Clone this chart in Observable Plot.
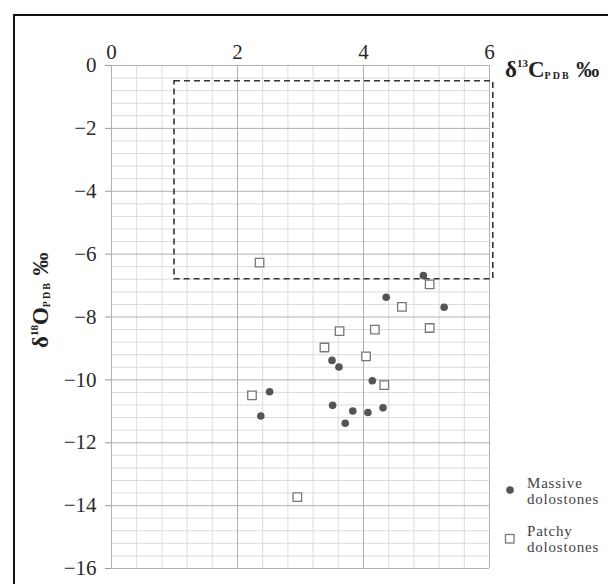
<!DOCTYPE html>
<html>
<head>
<meta charset="utf-8">
<script src="https://cdn.jsdelivr.net/npm/d3@7"></script>
<script src="https://cdn.jsdelivr.net/npm/@observablehq/plot@0.6"></script>
<style>
  html, body { margin: 0; padding: 0; background: #fff; overflow: hidden; }
  #wrap { position: relative; width: 608px; height: 584px; overflow: hidden; }
  #frame { position: absolute; left: 13px; top: 14px; width: 700px; height: 700px;
           border-left: 2.5px solid #111; border-top: 2.5px solid #111; pointer-events: none; }
  svg, svg text { font-family: "Liberation Serif", "DejaVu Serif", serif !important; }
  g[aria-label$="tick label"], g[aria-label$="tick label"] text { font-size: 21px !important; }
</style>
</head>
<body>
<div id="wrap"><div id="frame"></div></div>
<script>
// ---- data ----
const massiveC = [4.95, 4.36, 5.28, 3.50, 3.61, 4.14, 2.51, 2.37, 3.51, 3.83, 3.71, 4.07, 4.31];
const massiveO = [-6.68, -7.37, -7.69, -9.38, -9.59, -10.03, -10.38, -11.15, -10.81, -10.99, -11.38, -11.04, -10.89];
const patchyC = [2.35, 5.05, 4.61, 3.62, 4.18, 5.05, 3.38, 4.04, 4.33, 2.23, 2.95];
const patchyO = [-6.27, -6.96, -7.68, -8.45, -8.40, -8.35, -8.97, -9.25, -10.17, -10.49, -13.73];
const boxC = [1, 6.06];
const boxO = [-0.5, -6.8];
const xTicks = [0, 2, 4, 6];
const yTicks = [0, -2, -4, -6, -8, -10, -12, -14, -16];
const legendLabels = [["Massive", "dolostones"], ["Patchy", "dolostones"]];

const massive = massiveC.map((c, i) => ({c, o: massiveO[i]}));
const patchy = patchyC.map((c, i) => ({c, o: patchyO[i]}));
const box = [{x1: boxC[0], x2: boxC[1], y1: boxO[0], y2: boxO[1]}];
const xMinor = d3.range(0, 6.0001, 0.4).filter(v => !xTicks.some(t => Math.abs(t - v) < 1e-6));
const yMinor = d3.range(0, -16.0001, -0.4).filter(v => !yTicks.some(t => Math.abs(t - v) < 1e-6));
const fmt = d => (d < 0 ? "\u2212" : "") + Math.abs(d);
const serif = "Liberation Serif";

const chart = Plot.plot({
  width: 608,
  height: 584,
  marginLeft: 111,
  marginRight: 119,
  marginTop: 65,
  marginBottom: 16,
  style: {background: "transparent", fontFamily: serif, fontSize: "21px", color: "#2a2a2a"},
  x: {domain: [0, 6]},
  y: {domain: [-16, 0]},
  marks: [
    Plot.ruleX(xMinor, {stroke: "#dcdcdc", strokeWidth: 1}),
    Plot.ruleY(yMinor, {stroke: "#dcdcdc", strokeWidth: 1}),
    Plot.ruleX(xTicks, {stroke: "#b0b0b0", strokeWidth: 1}),
    Plot.ruleY(yTicks, {stroke: "#b0b0b0", strokeWidth: 1}),
    Plot.rect(box, {x1: "x1", x2: "x2", y1: "y1", y2: "y2", fill: "none", stroke: "#333", strokeWidth: 1.6, strokeDasharray: "6,4"}),
    Plot.dot(patchy, {x: "c", y: "o", symbol: "square", r: 4.8, fill: "white", stroke: "#777", strokeWidth: 1.3}),
    Plot.dot(massive, {x: "c", y: "o", r: 3.8, fill: "#555", stroke: "none"}),
    Plot.axisX({anchor: "top", ticks: xTicks, tickFormat: fmt, tickSize: 0, tickPadding: 7, label: null, fontSize: 21, fontFamily: serif, fill: "#2a2a2a"}),
    Plot.axisY({anchor: "left", ticks: yTicks, tickFormat: fmt, tickSize: 6, tickPadding: 9, label: null, fontSize: 21, fontFamily: serif, fill: "#2a2a2a", stroke: "#999"})
  ]
});

document.getElementById("wrap").insertBefore(chart, document.getElementById("frame"));
chart.style.position = "absolute";
chart.style.left = "0px";
chart.style.top = "0px";

const svg = d3.select(chart);

// axis titles with sub/superscripts
const xt = svg.append("text").attr("x", 505).attr("y", 77).attr("text-anchor", "start")
  .attr("font-weight", "bold").attr("fill", "#222").attr("font-size", 23);
xt.append("tspan").text("δ");
xt.append("tspan").attr("font-size", 11).attr("dy", -10).text("13");
xt.append("tspan").attr("font-size", 23).attr("dy", 10).text("C");
xt.append("tspan").attr("font-size", 10).attr("dy", 2).attr("letter-spacing", 2).text("PDB");
xt.append("tspan").attr("font-size", 23).attr("dy", -2).text(" ‰");

const yt = svg.append("text").attr("transform", "translate(48,348) rotate(-90)").attr("text-anchor", "start")
  .attr("font-weight", "bold").attr("fill", "#222").attr("font-size", 23);
yt.append("tspan").text("δ");
yt.append("tspan").attr("font-size", 11).attr("dy", -10).text("18");
yt.append("tspan").attr("font-size", 23).attr("dy", 10).text("O");
yt.append("tspan").attr("font-size", 10).attr("dy", 2).attr("letter-spacing", 2).text("PDB");
yt.append("tspan").attr("font-size", 23).attr("dy", -2).text(" ‰");

// legend
const lg = svg.append("g").attr("fill", "#444").attr("font-size", 15).attr("letter-spacing", 0.8).attr("text-anchor", "start");
lg.append("circle").attr("cx", 510).attr("cy", 490).attr("r", 3.8).attr("fill", "#555");
lg.append("text").attr("x", 527).attr("y", 488).text(legendLabels[0][0]);
lg.append("text").attr("x", 527).attr("y", 504).text(legendLabels[0][1]);
lg.append("rect").attr("x", 505.5).attr("y", 534.5).attr("width", 8.5).attr("height", 8.5).attr("fill", "white").attr("stroke", "#777").attr("stroke-width", 1.3);
lg.append("text").attr("x", 527).attr("y", 536).text(legendLabels[1][0]);
lg.append("text").attr("x", 527).attr("y", 552).text(legendLabels[1][1]);
</script>
</body>
</html>
